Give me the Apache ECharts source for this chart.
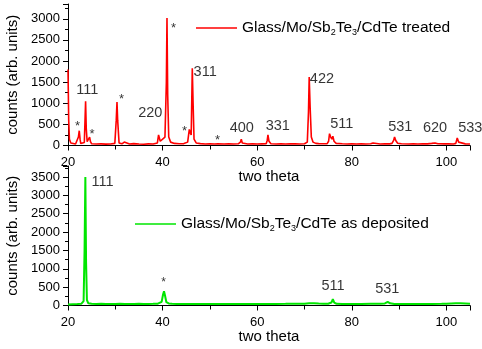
<!DOCTYPE html>
<html>
<head>
<meta charset="utf-8">
<script src="https://cdn.jsdelivr.net/npm/echarts@6/dist/echarts.min.js"></script>
<style>html,body{margin:0;padding:0;background:#fff}#c{width:482px;height:349px}</style>
</head>
<body>
<div id="c"></div>
<script>
// ---- data ----
const xTicks = [20, 40, 60, 80, 100];
const yTicksTop = [0, 500, 1000, 1500, 2000, 2500, 3000];
const yTicksBottom = [0, 500, 1000, 1500, 2000, 2500, 3000, 3500];

const treatedName = 'treated';
const depositedName = 'as deposited';

// two theta / counts pairs (treated sample)
const treated = [
[20.0,1800],[20.15,600],[20.3,150],[20.6,60],[21.0,40],[21.6,35],[22.0,40],[22.2,200],[22.38,350],[22.55,150],[22.7,45],[23.1,40],[23.45,70],[23.6,600],[23.72,1050],[23.86,400],[24.05,90],[24.35,80],[24.57,200],[24.75,90],[25.0,40],
[26,35],[27,38],[28,32],[29,35],[29.9,50],[30.2,600],[30.36,1030],[30.5,600],[30.8,60],[31.4,40],[31.9,80],[32.2,40],[33,35],[33.9,45],[34.3,30],[35,35],[36,30],[37,38],[38,35],
[38.9,60],[39.15,250],[39.3,260],[39.5,100],[39.9,60],[40.5,200],[40.8,1500],[40.93,3020],[41.08,1200],[41.3,200],[41.7,80],[42.5,50],[43.5,40],[44.5,45],[45.3,80],[45.65,380],[45.85,300],[46.05,250],[46.28,1830],[46.45,1000],[46.65,150],[47.1,60],[48,45],[49,35],[50,38],[51,35],
[51.7,40],[51.84,70],[52.0,40],[53,35],[54,38],[55,35],[56,40],[56.45,80],[56.64,150],[56.85,60],[58,35],[59,40],[60,35],[61,38],[61.9,40],[62.12,120],[62.28,250],[62.5,100],[62.9,40],[64,35],[65,38],[66,35],[67,40],[68,38],[69,35],[70,40],
[70.6,80],[70.85,800],[71.0,1620],[71.2,900],[71.45,200],[71.8,80],[72.4,50],[73,45],[74,40],[74.8,45],[75.1,100],[75.3,280],[75.55,200],[75.8,150],[76.0,220],[76.25,100],[76.7,50],[78,40],[79,35],[80,38],[81,35],[82,38],[83,35],[84,40],
[84.5,60],[84.8,38],[86,35],[87,40],[88,38],[88.5,50],[88.85,120],[89.05,200],[89.3,120],[89.7,55],[90.5,40],[92,35],[93,38],[94,35],[95,40],[96,38],[96.9,50],[97.3,90],[97.6,60],[98.2,40],[99.5,38],[100.5,40],[101.5,35],[102.0,50],[102.3,180],[102.6,80],[103.0,40],[104,38],[105,35]
];

// two theta / counts pairs (as deposited sample)
const deposited = [
[20,30],[21,35],[22,38],[22.8,45],[23.3,120],[23.5,1500],[23.67,3500],[23.82,1200],[24.0,150],[24.3,60],[25,45],[26,40],[27,45],[28,40],[29,42],[30,38],[31,45],[32,40],[33,42],[34,38],[35,45],[36,40],[37,42],[38,45],[39,50],
[39.8,100],[40.1,300],[40.3,390],[40.5,280],[40.8,90],[41.3,55],[42,45],[43,42],[44,40],[45,42],[46,40],[47,44],[48,40],[49,42],[50,40],[52,42],[54,40],[56,44],[58,42],[60,40],[62,42],[64,44],[66,45],[68,48],
[70,50],[71,60],[72,62],[73,55],[74,50],[75,48],[75.7,80],[76.0,170],[76.3,80],[76.8,45],[78,42],[80,44],[82,42],[84,45],[86,46],[87,55],[87.6,100],[88.1,60],[89,40],[91,42],[93,40],[95,44],[97,42],[99,45],[100,50],[101,55],[102,60],[103,58],[104,55],[105,50]
];

// peak annotations: [two theta, counts, text]
const treatedPeaks = [[24.1,1316,'111'],[37.4,763,'220'],[49.0,1750,'311'],[56.75,408,'400'],[64.35,462,'331'],[73.7,1570,'422'],[77.9,510,'511'],[90.25,432,'531'],[97.6,408,'620'],[105.05,408,'533']];
const treatedStars = [[22.0,450,'*'],[25.1,270,'*'],[31.3,1080,'*'],[42.3,2780,'*'],[44.65,345,'*'],[51.6,130,'*']];
const depositedPeaks = [[27.3,3364,'111'],[76.05,530,'511'],[87.5,448,'531']];
const depositedStars = [[40.2,620,'*']];

// ---- chart ----
const FONT = 'Liberation Sans, Arial, sans-serif';
const chart = echarts.init(document.getElementById('c'), null, {renderer: 'canvas'});

function xAxis(gi) {
  return {
    type: 'value', gridIndex: gi, min: xTicks[0], max: 105, interval: xTicks[1] - xTicks[0],
    name: 'two theta', nameLocation: 'middle', nameGap: 21,
    nameTextStyle: {fontFamily: FONT, fontSize: 15, color: '#000'},
    axisLine: {show: true, onZero: false, lineStyle: {color: '#000', width: 1}},
    axisTick: {show: true, inside: false, length: 5, lineStyle: {color: '#000'}},
    minorTick: {show: true, splitNumber: 2, length: 4, lineStyle: {color: '#000'}},
    axisLabel: {fontFamily: FONT, fontSize: 13, color: '#000', margin: 10, showMaxLabel: false,
      formatter: v => String(v)},
    splitLine: {show: false}, minorSplitLine: {show: false}
  };
}
function yAxis(gi, max, ticks) {
  return {
    type: 'value', gridIndex: gi, min: ticks[0], max: max, interval: ticks[1] - ticks[0],
    name: 'counts (arb. units)', nameLocation: 'middle', nameGap: 38, nameRotate: 90,
    nameTextStyle: {fontFamily: FONT, fontSize: 15, color: '#000'},
    axisLine: {show: true, onZero: false, lineStyle: {color: '#000', width: 1}},
    axisTick: {show: true, inside: false, length: 5, lineStyle: {color: '#000'}},
    minorTick: {show: true, splitNumber: 2, length: 3, lineStyle: {color: '#000'}},
    axisLabel: {fontFamily: FONT, fontSize: 13, color: '#000', margin: 8, showMaxLabel: false,
      formatter: v => String(v)},
    splitLine: {show: false}, minorSplitLine: {show: false}
  };
}
function labelSeries(gi, arr, size) {
  return {
    type: 'scatter', xAxisIndex: gi, yAxisIndex: gi, symbolSize: 0, silent: true,
    clip: false, z: 5,
    data: arr.map(d => ({value: [d[0], d[1]], name: d[2]})),
    label: {show: true, position: 'inside', formatter: p => p.name,
      fontFamily: FONT, fontSize: size, color: '#000'}
  };
}

const legendNames = {};
legendNames[treatedName] = 'Glass/Mo/Sb{s|2}Te{s|3}/CdTe treated';
legendNames[depositedName] = 'Glass/Mo/Sb{s|2}Te{s|3}/CdTe as deposited';
const legendText = {
  fontFamily: FONT, fontSize: 15.5, color: '#000', lineHeight: 18,
  rich: {s: {fontFamily: FONT, fontSize: 9, color: '#000', lineHeight: 18, verticalAlign: 'bottom', padding: [6, 0, 0, 0]}}
};

chart.setOption({
  animation: false,
  backgroundColor: '#fff',
  grid: [
    {left: 68, right: 12, top: 4, height: 141.5, containLabel: false, outerBoundsMode: 'none'},
    {left: 68, right: 12, top: 166, height: 139.5, containLabel: false, outerBoundsMode: 'none'}
  ],
  xAxis: [xAxis(0), xAxis(1)],
  yAxis: [yAxis(0, 3350, yTicksTop), yAxis(1, 3800, yTicksBottom)],
  legend: [
    {data: [{name: treatedName, icon: 'rect'}], left: 191, top: 14, itemWidth: 41, itemHeight: 1.6, itemGap: 5,
     formatter: n => legendNames[n], textStyle: legendText},
    {data: [{name: depositedName, icon: 'rect'}], left: 130, top: 210, itemWidth: 41, itemHeight: 1.6, itemGap: 5,
     formatter: n => legendNames[n], textStyle: legendText}
  ],
  series: [
    {name: treatedName, type: 'line', xAxisIndex: 0, yAxisIndex: 0, data: treated,
     symbol: 'none', lineStyle: {color: '#ff0000', width: 1.6}, itemStyle: {color: '#ff0000'}},
    {name: depositedName, type: 'line', xAxisIndex: 1, yAxisIndex: 1, data: deposited,
     symbol: 'none', lineStyle: {color: '#00e600', width: 2}, itemStyle: {color: '#00e600'}},
    labelSeries(0, treatedPeaks, 14.5),
    labelSeries(0, treatedStars, 13),
    labelSeries(1, depositedPeaks, 14.5),
    labelSeries(1, depositedStars, 12)
  ]
});
</script>
</body>
</html>
